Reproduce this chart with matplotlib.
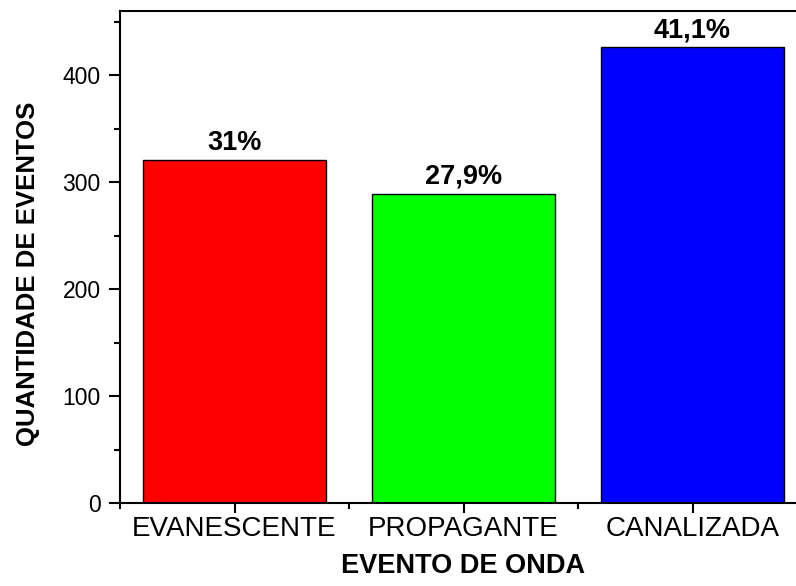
import numpy as np
import matplotlib
matplotlib.use('Agg')
import matplotlib.pyplot as plt
from matplotlib.ticker import MultipleLocator, FixedLocator

# DATA
# ----
categories = ['EVANESCENTE', 'PROPAGANTE', 'CANALIZADA']
counts = [321, 289, 426]
percent_labels = ['31%', '27,9%', '41,1%']
bar_colors = ['#ff0000', '#00ff00', '#0000ff']

plt.rcParams['font.family'] = ['Liberation Sans', 'DejaVu Sans']

fig = plt.figure(figsize=(7.96, 5.86), dpi=100)
# axes run past the right edge of the picture, like the original crop
ax = fig.add_axes([120/796, 83/586, 687/796, 492/586])

x = np.arange(1, len(categories) + 1)
ax.bar(x, counts, width=0.8, color=bar_colors, edgecolor='black', linewidth=1.0)

for xi, c, lab in zip(x, counts, percent_labels):
    ax.annotate(lab, (xi, c), xytext=(0, 3), textcoords='offset points',
                ha='center', va='bottom', fontsize=19.5, fontweight='bold')

ax.set_xlim(0.5, 3.5)
ax.set_ylim(0, 460)

ax.xaxis.set_major_locator(FixedLocator(x))
ax.xaxis.set_minor_locator(FixedLocator([0.5, 1.5, 2.5, 3.5]))
ax.set_xticklabels(categories)
ax.yaxis.set_major_locator(MultipleLocator(100))
ax.yaxis.set_minor_locator(MultipleLocator(50))

ax.tick_params(axis='x', which='major', direction='out', length=7, width=1.5,
               labelsize=20, pad=2)
ax.tick_params(axis='x', which='minor', direction='out', length=4, width=1.5)
ax.tick_params(axis='y', which='major', direction='out', length=8, width=1.5,
               labelsize=16.5, pad=6)
ax.tick_params(axis='y', which='minor', direction='out', length=4.5, width=1.5)

for side in ['left', 'bottom', 'top']:
    ax.spines[side].set_linewidth(1.5)
ax.spines['right'].set_visible(False)

ax.set_xlabel('EVENTO DE ONDA', fontsize=19.5, fontweight='bold')
ax.set_ylabel('QUANTIDADE DE EVENTOS', fontsize=18.5, fontweight='bold')
ax.xaxis.set_label_coords(0.5, -0.101)
ax.yaxis.set_label_coords(-0.116, 0.466)

fig.savefig('out.png', dpi=100)
